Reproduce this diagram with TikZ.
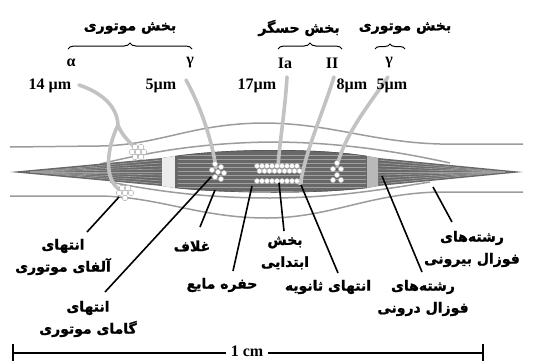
\documentclass[tikz,border=0pt]{standalone}
\usepackage{fontspec}
\setmainfont{Liberation Serif}
\newfontfamily\fafont[Script=Arabic, BoldFont={DejaVu Sans Bold}, BoldFeatures={FakeBold=1.3}]{DejaVu Sans}
\TeXXeTstate=1
\usetikzlibrary{decorations.pathreplacing}
\newcommand\rtlx[1]{\beginR#1\endR}

\definecolor{bodygray}{HTML}{686868}
\definecolor{striagray}{HTML}{A0A0A0}
\definecolor{capgray}{HTML}{9C9C9C}
\definecolor{fibergray}{HTML}{C2C2C2}

\tikzset{
  fa/.style={font=\fafont\bfseries\fontsize{14}{22}\selectfont, align=center, inner sep=0pt},
  lat/.style={font=\bfseries\fontsize{16}{18}\selectfont, inner sep=0pt},
  leader/.style={line width=1.6pt, black},
  fiber/.style={line width=3.6pt, fibergray, line cap=round},
  capsule/.style={line width=1.5pt, capgray},
  stria/.style={line width=0.9pt, striagray},
  brc/.style={decorate, decoration={brace, amplitude=6pt}, line width=1pt},
  nucl/.style={draw=gray!60, fill=white, line width=0.5pt},
  scalebar/.style={line width=1.8pt, black},
}

\begin{document}
\begin{tikzpicture}[x=1pt, y=-1pt]
\useasboundingbox (0,0) rectangle (533,362);
\fill[white] (0,0) rectangle (533,362);

% outer capsule
\draw[capsule] (10,147) -- (100,146) .. controls (160,145) and (190,124) .. (262,123)
  .. controls (330,123) and (370,142) .. (440,144) -- (523,144);
\draw[capsule] (10,196) -- (100,196) .. controls (160,197) and (200,218) .. (267,218)
  .. controls (330,218) and (370,193) .. (440,192) -- (523,192);
% inner capsule
\draw[capsule] (100,164) .. controls (150,152) and (200,143) .. (270,142)
  .. controls (340,142) and (400,152) .. (450,163);
\draw[capsule] (110,182) .. controls (160,192) and (210,198) .. (270,198)
  .. controls (330,198) and (380,190) .. (430,182);

% spindle body
\def\spindle{(10,172) -- (162,158) -- (175,156) .. controls (230,148) and (320,148) .. (367,156)
  -- (378,158) -- (523,172) -- (378,186) -- (367,188) .. controls (320,194) and (230,194) .. (175,188)
  -- (162,186) -- cycle}
\fill[bodygray] \spindle;
\begin{scope}
  \clip \spindle;
  % polar striations
  \foreach \yy in {160,163,...,184} {
    \draw[stria, line width=0.6pt] (30,172) -- (162,\yy);
    \draw[stria, line width=0.6pt] (378,\yy) -- (505,172);
  }
  % equatorial striations
  \foreach \yy in {155,159,...,191} {
    \draw[stria] (178,\yy) -- (366,\yy);
  }
  % light bands at the ends of the equatorial zone
  \fill[gray!15] (162,150) rectangle (175,195);
  \fill[gray!55] (367,150) rectangle (378,195);
  \draw[line width=1.2pt, bodygray!80!black] (175,156) .. controls (230,148) and (320,148) .. (367,156);
  \draw[line width=1.2pt, bodygray!80!black] (175,188) .. controls (230,194) and (320,194) .. (367,188);
\end{scope}

% nerve fibres
\draw[fiber] (79,85) .. controls (100,92) and (117,105) .. (118,125);
\draw[fiber] (118,125) .. controls (122,136) and (130,142) .. (136,149);
\draw[fiber] (118,125) .. controls (106,150) and (104,180) .. (120,190);
\draw[fiber] (186,80) .. controls (200,105) and (212,140) .. (216,168);
\draw[fiber] (287,77) .. controls (285,110) and (280,140) .. (278,166);
\draw[fiber] (334,77) .. controls (322,115) and (306,150) .. (301,181);
\draw[fiber] (388,77) .. controls (365,110) and (345,135) .. (337,166);
\fill[fibergray] (300,182) circle (3.2);

% nuclei clusters
\foreach \cx/\cy in {135/147,141/147,132/152,138/152,144/152,135/157,141/157}
  \filldraw[nucl] (\cx,\cy) circle (2.8);
\foreach \cx/\cy in {122/188,128/188,119/193,125/193,131/193,125/198}
  \filldraw[nucl] (\cx,\cy) circle (2.8);
\foreach \cx/\cy in {215/164,221/167,212/170,218/172,224/173,215/177,221/179}
  \filldraw[nucl] (\cx,\cy) circle (2.6);
\foreach \cx/\cy in {337/163,333/169,341/169,337/175,333/180,341/180}
  \filldraw[nucl] (\cx,\cy) circle (2.6);
\foreach \cx in {257,262,...,297} {
  \filldraw[nucl, draw=gray!45] (\cx,166) circle (2.4);
  \filldraw[nucl, draw=gray!45] (\cx+2.5,171) circle (2.4);
  \filldraw[nucl, draw=gray!45] (\cx,181) circle (2.4);
}

% upper labels
\node[fa] (tMotA) at (130,28) {\rtlx{بخش موتوری}};
\node[fa] (tSens) at (299,28) {\rtlx{بخش حسگر}};
\node[fa] (tMotB) at (405,28) {\rtlx{بخش موتوری}};
\draw[brc] (68,49) -- (192,49);
\draw[brc] (278,49) -- (342,49);
\draw[brc, decoration={amplitude=5pt}] (375,49) -- (405,49);
\node[lat] (alpha) at (71,63) {α};
\node[lat] (gammaA) at (190,63) {γ};
\node[lat] (ia) at (285,63) {Ia};
\node[lat] (ii) at (332,63) {II};
\node[lat] (gammaB) at (389,63) {γ};
\node[lat] (dA) at (50,86) {14 µm};
\node[lat] (dB) at (161,86) {5µm};
\node[lat] (dC) at (257,86) {17µm};
\node[lat] (dD) at (352,86) {8µm};
\node[lat] (dE) at (392,86) {5µm};

% lower labels
\node[fa] (lAlpha) at (63,257) {\rtlx{انتهای}\\\rtlx{آلفای موتوری}};
\node[fa] (lGamma) at (88,319) {\rtlx{انتهای}\\\rtlx{گامای موتوری}};
\node[fa] (lSheath) at (192,246) {\rtlx{غلاف}};
\node[fa] (lFluid) at (222,285) {\rtlx{حفره مایع}};
\node[fa] (lPrim) at (285,253) {\rtlx{بخش}\\\rtlx{ابتدایی}};
\node[fa] (lSec) at (328,287) {\rtlx{انتهای ثانویه}};
\node[fa] (lIntra) at (423,298) {\rtlx{رشته‌های}\\\rtlx{فوزال درونی}};
\node[fa] (lExtra) at (472,249) {\rtlx{رشته‌های}\\\rtlx{فوزال بیرونی}};

% leader ends
\coordinate (aS) at (87,232);   \coordinate (aE) at (119,197);
\coordinate (gS) at (105,292);  \coordinate (gE) at (211,177);
\coordinate (sS) at (200,227);  \coordinate (sE) at (215,190);
\coordinate (fS) at (233,271);  \coordinate (fE) at (252,186);
\coordinate (pS) at (284,231);  \coordinate (pE) at (279,183);
\coordinate (cS) at (338,273);  \coordinate (cE) at (301,185);
\coordinate (iS) at (422,272);  \coordinate (iE) at (382,176);
\coordinate (eS) at (452,222);  \coordinate (eE) at (433,187);
\draw[leader] (aS) -- (aE);
\draw[leader] (gS) -- (gE);
\draw[leader] (sS) -- (sE);
\draw[leader] (fS) -- (fE);
\draw[leader] (pS) -- (pE);
\draw[leader] (cS) -- (cE);
\draw[leader] (iS) -- (iE);
\draw[leader] (eS) -- (eE);

% scale bar
\node[lat, inner xsep=5pt] (cm) at (247,351) {1 cm};
\coordinate (sbL) at (13,353);
\coordinate (sbR) at (483,353);
\draw[scalebar] (sbL) -- (cm.west |- sbL);
\draw[scalebar] (cm.east |- sbR) -- (sbR);
\draw[scalebar] (13,344) -- (13,361);
\draw[scalebar] (483,344) -- (483,361);
\end{tikzpicture}
\end{document}
